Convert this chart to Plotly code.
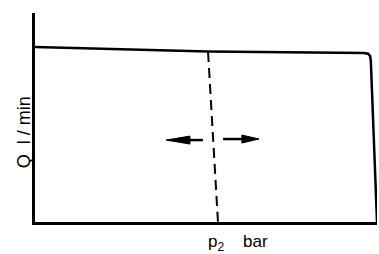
import plotly.graph_objects as go

# Characteristic curve Q (l/min) over p2 (bar), arbitrary 0-100 units
curve_p = [0, 50.6, 96.2, 97.4, 98.0, 98.2, 100]
curve_q = [83.7, 81.6, 80.9, 80.5, 79.4, 77.0, 0]

# Dashed setting line
dash_p = [50.6, 53.5]
dash_q = [81.3, 0]

# Arrows (tail, head base, tip) and their level
left_arrow_p = [49.1, 45.3, 38.3]
left_arrow_q = 39.2
right_arrow_p = [55.0, 60.5, 65.5]
right_arrow_q = 39.7
head_half = 1.9

x_label = "p<sub>2</sub>    bar"
y_label = "Q  l / min"

fig = go.Figure()
fig.add_trace(go.Scatter(x=curve_p, y=curve_q, mode="lines",
                         line=dict(color="black", width=2.5), cliponaxis=False))
fig.add_trace(go.Scatter(x=dash_p, y=dash_q, mode="lines",
                         line=dict(color="black", width=2, dash="10px,6px")))

for arr, q in ((left_arrow_p, left_arrow_q), (right_arrow_p, right_arrow_q)):
    tail, base, tip = arr
    fig.add_trace(go.Scatter(x=[tail, base], y=[q, q], mode="lines",
                             line=dict(color="black", width=2.5)))
    fig.add_trace(go.Scatter(x=[base, tip, base, base], y=[q + head_half, q, q - head_half, q + head_half],
                             mode="lines", fill="toself", fillcolor="black",
                             line=dict(color="black", width=1)))

fig.add_annotation(text=x_label, xref="x", yref="paper", x=49.9, y=-0.1,
                   xanchor="left", yanchor="middle", showarrow=False,
                   font=dict(family="Liberation Sans", size=17, color="black"))
fig.add_annotation(text=y_label, xref="paper", yref="paper", x=-0.032, y=0.43,
                   xanchor="center", yanchor="middle", textangle=-90, showarrow=False,
                   font=dict(family="Liberation Sans", size=18, color="black"))

axis_style = dict(showline=True, linewidth=3, linecolor="black", showgrid=False,
                  zeroline=False, showticklabels=False, ticks="", fixedrange=True)
fig.update_xaxes(range=[0, 100], **axis_style)
fig.update_yaxes(range=[0, 100], **axis_style)
fig.update_layout(width=379, height=254, margin=dict(l=35, r=2, t=13, b=32),
                  showlegend=False, plot_bgcolor="white", paper_bgcolor="white")
fig.write_html("out.html", config={"displayModeBar": False},
               post_script="document.body.style.margin='0';document.body.style.overflow='hidden';")
